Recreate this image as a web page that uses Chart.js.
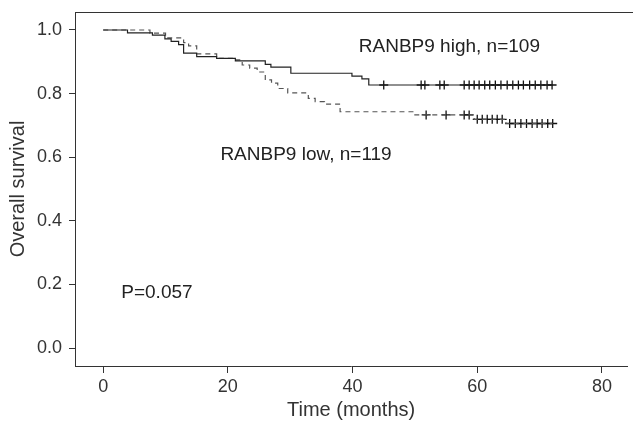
<!DOCTYPE html>
<html>
<head>
<meta charset="utf-8">
<script src="https://cdn.jsdelivr.net/npm/chart.js@4"></script>
<style>
  body{margin:0;background:#fff;}
  #wrap{width:633px;height:426px;}
</style>
</head>
<body>
<div id="wrap"><canvas id="km" width="633" height="426"></canvas></div>
<script>
// Kaplan-Meier step points (time in months, survival after the drop)
const highTimes = [0, 3.9, 7.9, 9.9, 10.9, 12.1, 12.9, 15.0, 18.2, 21.2, 26.0, 26.9, 30.1, 39.9, 41.5, 42.6, 72.0];
const highSurv  = [1.0, 0.991, 0.984, 0.972, 0.964, 0.954, 0.927, 0.916, 0.911, 0.903, 0.892, 0.883, 0.864, 0.855, 0.846, 0.827, 0.827];
const lowTimes  = [0, 7.5, 10.0, 12.9, 13.7, 15.0, 18.2, 21.3, 22.3, 23.5, 24.7, 26.0, 27.0, 28.0, 29.6, 32.9, 34.0, 35.5, 38.0, 49.8, 59.5, 64.6, 72.1];
const lowSurv   = [1.0, 0.99, 0.975, 0.96, 0.95, 0.925, 0.911, 0.906, 0.89, 0.88, 0.868, 0.843, 0.833, 0.816, 0.802, 0.785, 0.775, 0.767, 0.743, 0.733, 0.719, 0.706, 0.706];

// censored times
const highCensor = [45, 51, 51.6, 54, 54.7, 57.9, 58.7, 59.5, 60.3, 61.2, 62.0, 62.9, 63.8, 64.8, 65.7, 66.6, 67.4, 68.4, 69.3, 70.2, 71.2, 72.0];
const lowCensor  = [51.8, 55, 57.9, 58.7, 60, 60.8, 61.6, 62.4, 63.2, 64, 65.2, 66.1, 67, 67.9, 68.8, 69.6, 70.4, 71.3, 72.1];

const xTicks = [0, 20, 40, 60, 80];
const yTicks = [0, 0.2, 0.4, 0.6, 0.8, 1.0];

const notes = [
  { text: 'RANBP9 high, n=109', x: 41, y: 0.947 },
  { text: 'RANBP9 low, n=119', x: 18.8, y: 0.607 },
  { text: 'P=0.057', x: 2.9, y: 0.173 }
];

const FONT = "'Liberation Sans', Arial, Helvetica, sans-serif";
const INK = '#333';

function pts(ts, ss){ return ts.map((t,i)=>({x:t, y:ss[i]})); }

// survival at time t from the step table
function survAt(ts, ss, t){
  let s = ss[0];
  for(let i=0;i<ts.length;i++){ if(ts[i] <= t) s = ss[i]; }
  return s;
}

const boxPlugin = {
  id: 'boxAndNotes',
  afterDraw(chart){
    const {ctx, chartArea, scales} = chart;
    ctx.save();
    ctx.strokeStyle = INK;
    ctx.lineWidth = 1;
    ctx.beginPath();
    ctx.moveTo(chartArea.left, chartArea.top + 0.5);
    ctx.lineTo(chart.width, chartArea.top + 0.5);
    ctx.stroke();
    ctx.fillStyle = '#222';
    ctx.font = '19px ' + FONT;
    ctx.textBaseline = 'middle';
    ctx.textAlign = 'left';
    notes.forEach(n => {
      ctx.fillText(n.text, scales.x.getPixelForValue(n.x), scales.y.getPixelForValue(n.y));
    });
    ctx.restore();
  }
};

new Chart(document.getElementById('km'), {
  type: 'line',
  data: {
    datasets: [
      { label: 'high', data: pts(highTimes, highSurv), stepped: true, borderColor: '#222', borderWidth: 1.2, pointRadius: 0, fill: false },
      { label: 'low', data: pts(lowTimes, lowSurv), stepped: true, borderColor: '#555', borderWidth: 1.2, borderDash: [5,4], pointRadius: 0, fill: false },
      { label: 'high censored', type: 'scatter', data: highCensor.map(t => ({x:t, y:survAt(highTimes, highSurv, t)})),
        pointStyle: 'cross', pointRadius: 4.5, borderColor: '#111', borderWidth: 1.3 },
      { label: 'low censored', type: 'scatter', data: lowCensor.map(t => ({x:t, y:survAt(lowTimes, lowSurv, t)})),
        pointStyle: 'cross', pointRadius: 4.5, borderColor: '#111', borderWidth: 1.3 }
    ]
  },
  options: {
    responsive: false,
    animation: false,
    layout: { padding: { top: 12, right: 0, left: 0, bottom: 0 } },
    plugins: { legend: { display: false }, tooltip: { enabled: false } },
    scales: {
      x: {
        type: 'linear', min: -4.52, max: 84.05,
        afterBuildTicks: s => { s.ticks = xTicks.map(v => ({value: v})); },
        afterFit: s => { s.height = 60; s.paddingLeft = 0; s.paddingRight = 0; },
        grid: { drawOnChartArea: false, tickLength: 7, tickColor: INK },
        border: { color: INK, width: 1 },
        ticks: { color: INK, font: { family: FONT, size: 18 }, padding: 3, maxRotation: 0,
          callback: v => String(v) },
        title: { display: true, text: 'Time (months)', color: INK, font: { family: FONT, size: 20 }, padding: { top: 1 } }
      },
      y: {
        type: 'linear', min: -0.0566, max: 1.0566,
        afterBuildTicks: s => { s.ticks = yTicks.map(v => ({value: v})); },
        afterFit: s => { s.width = 75; s.paddingTop = 0; s.paddingBottom = 0; },
        grid: { drawOnChartArea: false, tickLength: 6, tickColor: INK },
        border: { color: INK, width: 1 },
        ticks: { color: INK, font: { family: FONT, size: 18 }, padding: 7,
          callback: v => Number(v).toFixed(1) },
        title: { display: true, text: 'Overall survival', color: INK, font: { family: FONT, size: 20 }, padding: { top: 6, bottom: 0 } }
      }
    }
  },
  plugins: [boxPlugin]
});
</script>
</body>
</html>
